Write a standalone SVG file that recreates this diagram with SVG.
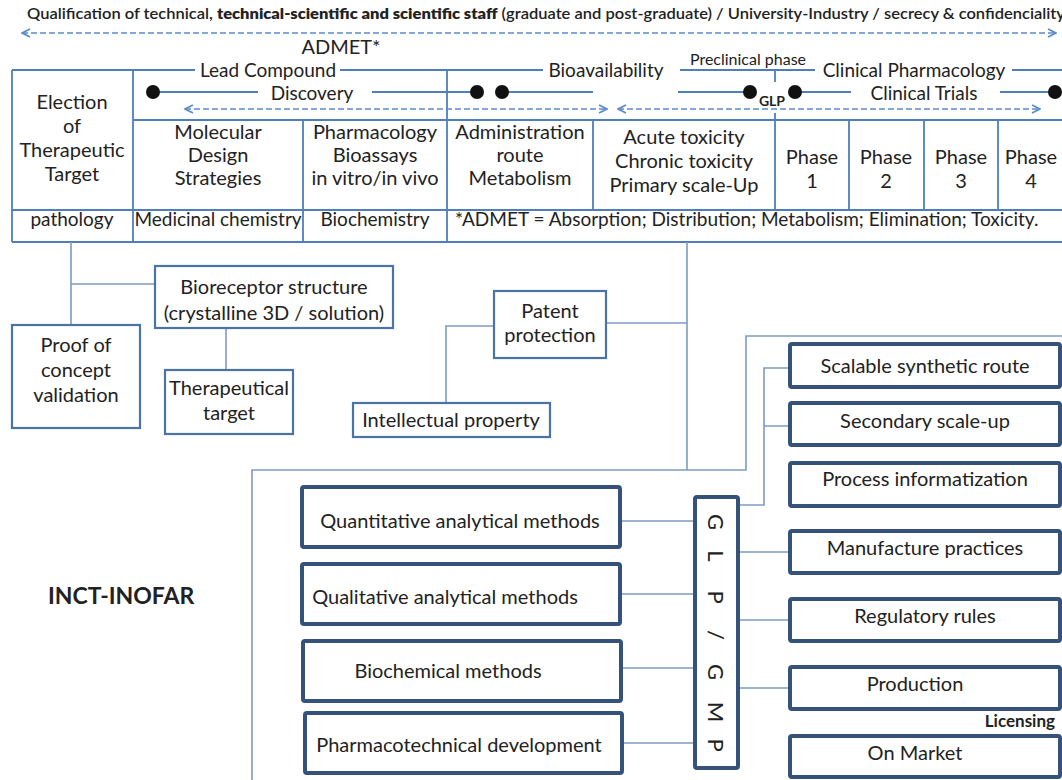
<svg xmlns="http://www.w3.org/2000/svg" width="1062" height="780" viewBox="0 0 1062 780">
<defs>
<marker id="chev" viewBox="0 0 10 10" refX="9" refY="5" markerWidth="10" markerHeight="10" markerUnits="userSpaceOnUse" orient="auto-start-reverse"><path d="M1,1 L9,5 L1,9" fill="none" stroke="#5b8bc9" stroke-width="1.8"/></marker>
<style>
text{font-family:Lato,"Liberation Sans",sans-serif;fill:#222;}
.t20{font-size:20px;text-anchor:middle;}
.t19{font-size:19px;text-anchor:middle;}
.tl{stroke:#4f7fba;stroke-width:1.8;fill:none;}
.dash{stroke:#5b8bc9;stroke-width:1.6;stroke-dasharray:6 3;fill:none;marker-start:url(#chev);marker-end:url(#chev);}
.con{stroke:#7d9cc4;stroke-width:1.6;fill:none;}
.thin{fill:#fff;stroke:#4a74a6;stroke-width:2.2;}
.thick{fill:#fff;stroke:#34527a;stroke-width:4;}
.dot{fill:#111;}
</style>
</defs>
<rect width="1062" height="780" fill="#fff"/>

<g id="header">
<text x="27" y="19" font-size="14.5" font-weight="600" textLength="1038" lengthAdjust="spacingAndGlyphs">Qualification of technical, <tspan font-weight="800">technical-scientific and scientific staff</tspan> (graduate and post-graduate) / University-Industry / secrecy &amp; confidenciality</text>
<line class="dash" x1="22" y1="33" x2="1056" y2="33"/>
<text class="t20" x="341" y="54">ADMET*</text>
</g>

<g id="table">
<path class="tl" d="M12,70 H195 M340,70 H543 M680,70 H815 M1012,70 H1062"/>
<path class="tl" d="M12,70 V242 M133,70 V242 M303,120 V242 M447,70 V242 M593,120 V210 M775,70 V82 M775,113 V210 M849,120 V210 M924,120 V210 M998,120 V210"/>
<path class="tl" d="M133,120 H1062 M12,210 H1062"/>
<path class="tl" stroke-width="2.4" d="M12,242 H1062"/>
<text class="t19" x="268" y="77">Lead Compound</text>
<text class="t19" x="606" y="77">Bioavailability</text>
<text x="748" y="65" font-size="16" text-anchor="middle">Preclinical phase</text>
<text class="t19" x="914" y="77">Clinical Pharmacology</text>
<path class="tl" d="M153,92 H258 M372,92 H477 M502,92 H593 M678,92 H750 M795,92 H851 M1000,92 H1055"/>
<circle class="dot" cx="153" cy="92" r="7"/>
<circle class="dot" cx="477" cy="92" r="7"/>
<circle class="dot" cx="502" cy="92" r="7"/>
<circle class="dot" cx="750" cy="92" r="7"/>
<circle class="dot" cx="795" cy="92" r="7"/>
<circle class="dot" cx="1055" cy="92" r="7"/>
<text class="t19" x="312" y="100">Discovery</text>
<text class="t19" x="924" y="100">Clinical Trials</text>
<text x="772" y="106" font-size="14" font-weight="bold" text-anchor="middle">GLP</text>
<line class="dash" x1="185" y1="109" x2="607" y2="109"/>
<line class="dash" x1="618" y1="109" x2="1040" y2="109"/>

<text class="t20" x="72" y="109">Election</text>
<text class="t20" x="72" y="133">of</text>
<text class="t20" x="72" y="157">Therapeutic</text>
<text class="t20" x="72" y="181">Target</text>

<text class="t20" x="218" y="139">Molecular</text>
<text class="t20" x="218" y="162">Design</text>
<text class="t20" x="218" y="185">Strategies</text>

<text class="t20" x="375" y="139">Pharmacology</text>
<text class="t20" x="375" y="162">Bioassays</text>
<text class="t20" x="375" y="185">in vitro/in vivo</text>

<text class="t20" x="520" y="139">Administration</text>
<text class="t20" x="520" y="162">route</text>
<text class="t20" x="520" y="185">Metabolism</text>

<text class="t20" x="684" y="144">Acute toxicity</text>
<text class="t20" x="684" y="168">Chronic toxicity</text>
<text class="t20" x="684" y="192">Primary scale-Up</text>

<text class="t20" x="812" y="164">Phase</text><text class="t20" x="812" y="188">1</text>
<text class="t20" x="886" y="164">Phase</text><text class="t20" x="886" y="188">2</text>
<text class="t20" x="961" y="164">Phase</text><text class="t20" x="961" y="188">3</text>
<text class="t20" x="1031" y="164">Phase</text><text class="t20" x="1031" y="188">4</text>

<text class="t19" x="72" y="226">pathology</text>
<text class="t19" x="218" y="226">Medicinal chemistry</text>
<text class="t19" x="375" y="226">Biochemistry</text>
<text x="455" y="226" font-size="19">*ADMET = Absorption; Distribution; Metabolism; Elimination; Toxicity.</text>
</g>

<g id="connectors">
<path class="con" d="M71,242 V325 M71,284 H155"/>
<path class="con" d="M226,328 V370"/>
<path class="con" d="M494,326 H446 V403"/>
<path class="con" d="M606,323 H687 M687,242 V470"/>
<path class="con" d="M252,780 V470 H746 V336 H1062"/>
<path class="con" d="M738,505 H764 V368 H790 M764,426 H790"/>
<path class="con" d="M620,521 H695 M620,594 H695 M621,668 H695 M622,743 H695"/>
<path class="con" d="M738,552 H790 M738,620 H790 M738,688 H790"/>
</g>

<g id="bioreceptor"><rect class="thin" x="155" y="266" width="238" height="62"/>
<text class="t20" x="274" y="294">Bioreceptor structure</text>
<text class="t20" x="274" y="320">(crystalline 3D  / solution)</text></g>

<g id="proof"><rect class="thin" x="12" y="325" width="128" height="103"/>
<text class="t20" x="76" y="352">Proof of</text>
<text class="t20" x="76" y="377">concept</text>
<text class="t20" x="76" y="402">validation</text></g>

<g id="therapeutical"><rect class="thin" x="165" y="370" width="128" height="64"/>
<text class="t20" x="229" y="395">Therapeutical</text>
<text class="t20" x="229" y="420">target</text></g>

<g id="patent"><rect class="thin" x="494" y="291" width="112" height="67"/>
<text class="t20" x="550" y="318">Patent</text>
<text class="t20" x="550" y="342">protection</text></g>

<g id="intellectual"><rect class="thin" x="353" y="403" width="197" height="34"/>
<text class="t20" x="451" y="427">Intellectual property</text></g>

<g id="quant"><rect class="thick" x="302" y="487" width="318" height="60" rx="2"/>
<text class="t20" x="460" y="528">Quantitative analytical methods</text></g>
<g id="qual"><rect class="thick" x="302" y="564" width="318" height="60" rx="2"/>
<text class="t20" x="445" y="604">Qualitative analytical methods</text></g>
<g id="biochem"><rect class="thick" x="303" y="641" width="318" height="60" rx="2"/>
<text class="t20" x="448" y="678">Biochemical methods</text></g>
<g id="pharmacotech"><rect class="thick" x="305" y="713" width="317" height="60" rx="2"/>
<text class="t20" x="459" y="752">Pharmacotechnical development</text></g>

<g id="glpgmp"><rect class="thick" x="695" y="497" width="43" height="271" rx="2"/>
<g font-size="22" text-anchor="middle">
<text transform="translate(716,522) rotate(90)" dominant-baseline="central">G</text>
<text transform="translate(716,556) rotate(90)" dominant-baseline="central">L</text>
<text transform="translate(716,597) rotate(90)" dominant-baseline="central">P</text>
<text transform="translate(716,635) rotate(90)" dominant-baseline="central">/</text>
<text transform="translate(716,672) rotate(90)" dominant-baseline="central">G</text>
<text transform="translate(716,712) rotate(90)" dominant-baseline="central">M</text>
<text transform="translate(716,745) rotate(90)" dominant-baseline="central">P</text>
</g></g>

<g id="scalable"><rect class="thick" x="790" y="344" width="270" height="43" rx="2"/>
<text class="t20" x="925" y="373">Scalable synthetic route</text></g>
<g id="secondary"><rect class="thick" x="790" y="403" width="270" height="42" rx="2"/>
<text class="t20" x="925" y="428">Secondary scale-up</text></g>
<g id="process"><rect class="thick" x="790" y="463" width="270" height="43" rx="2"/>
<text class="t20" x="925" y="486">Process informatization</text></g>
<g id="manufacture"><rect class="thick" x="790" y="531" width="270" height="42" rx="2"/>
<text class="t20" x="925" y="555">Manufacture practices</text></g>
<g id="regulatory"><rect class="thick" x="790" y="599" width="270" height="42" rx="2"/>
<text class="t20" x="925" y="623">Regulatory rules</text></g>
<g id="production"><rect class="thick" x="790" y="667" width="270" height="42" rx="2"/>
<text class="t20" x="915" y="691">Production</text></g>
<g id="licensing"><text x="1055" y="727" font-size="17" font-weight="bold" text-anchor="end">Licensing</text></g>
<g id="market"><rect class="thick" x="790" y="736" width="270" height="41" rx="2"/>
<text class="t20" x="915" y="760">On Market</text></g>

<g id="inct"><text x="48" y="604" font-family="Liberation Sans, Arial, sans-serif" font-size="23" font-weight="bold">INCT-INOFAR</text></g>
</svg>
